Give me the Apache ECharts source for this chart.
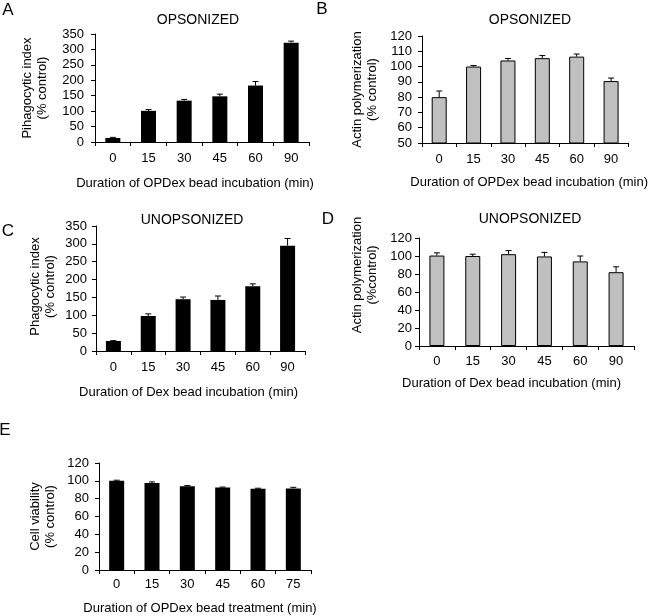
<!DOCTYPE html>
<html>
<head>
<meta charset="utf-8">
<script src="https://cdn.jsdelivr.net/npm/echarts@6/dist/echarts.min.js"></script>
<style>html,body{margin:0;padding:0;background:#fff}#c{width:650px;height:616px}</style>
</head>
<body>
<div id="c"></div>
<script>
const catsAD = ['0','15','30','45','60','90'];
const catsE = ['0','15','30','45','60','75'];
const valA = [13,101,134,148,183,322];
const errA = [2,4,4,7,13,5];
const valB = [80,100,104,105.5,106.5,90.5];
const errB = [4,0.7,1.3,1.7,1.7,2];
const valC = [28,98,145,143,181,295];
const errC = [1,6,6,11,7,20];
const valD = [100.5,100,102,99.5,94,82];
const errD = [3,2,4,4.5,6,6];
const valE = [100,97.5,94,92.5,91,91.5];
const errE = [0.7,1.3,0.7,0.5,0.7,1.2];

const FONT = 'Liberation Sans, Arial, sans-serif';
const chart = echarts.init(document.getElementById('c'));

const panels = [
  {cats:catsAD, val:valA, err:errA, grid:{left:95,top:34,width:214,height:108}, min:0,max:350,interval:50,
   fill:'#000', border:0, yname:'Pihagocytic index\n(% control)', ynameGap:45, ynamePad:[0,0,0,0], ylabM:11,
   xname:'Duration of OPDex bead incubation (min)', xnameGap:35, xnamePad:[0,14,0,0], xlabM:10},
  {cats:catsAD, val:valB, err:errB, grid:{left:422,top:36,width:212,height:107}, min:50,max:120,interval:10,
   fill:'#c0c0c0', border:1, yname:'Actin polymerization\n(% control)', ynameGap:42, ynamePad:[0,0,0,0], ylabM:10,
   xname:'Duration of OPDex bead incubation (min)', xnameGap:33, xnamePad:[0,0,0,8], xlabM:10},
  {cats:catsAD, val:valC, err:errC, grid:{left:96,top:226,width:209,height:125}, min:0,max:350,interval:50,
   fill:'#000', border:0, yname:'Phagocytic index\n(% control)', ynameGap:38, ynamePad:[0,0,0,4], ylabM:9,
   xname:'Duration of Dex bead incubation (min)', xnameGap:35, xnamePad:[0,24,0,0], xlabM:10},
  {cats:catsAD, val:valD, err:errD, grid:{left:419,top:238,width:215,height:108}, min:0,max:120,interval:20,
   fill:'#c0c0c0', border:1, yname:'Actin polymerization\n(%control)', ynameGap:39, ynamePad:[0,0,0,34], ylabM:7,
   xname:'Duration of Dex bead incubation (min)', xnameGap:31, xnamePad:[0,30,0,0], xlabM:9},
  {cats:catsE, val:valE, err:errE, grid:{left:99,top:463,width:212,height:108}, min:0,max:120,interval:20,
   fill:'#000', border:0, yname:'Cell viability\n(% control)', ynameGap:41, ynamePad:[0,0,0,0], ylabM:10,
   xname:'Duration of OPDex bead treatment (min)', xnameGap:32, xnamePad:[0,10,0,0], xlabM:8}
];

const grid = [], xAxis = [], yAxis = [], series = [];
panels.forEach((p, i) => {
  grid.push(Object.assign({containLabel:false}, p.grid));
  xAxis.push({
    gridIndex:i, type:'category', data:p.cats,
    axisLine:{lineStyle:{color:'#000',width:1}},
    axisTick:{show:true,length:4,lineStyle:{color:'#000'}},
    axisLabel:{color:'#000',fontSize:13,fontFamily:FONT,margin:p.xlabM},
    splitLine:{show:false},
    name:p.xname, nameLocation:'middle', nameGap:p.xnameGap,
    nameTextStyle:{color:'#000',fontSize:13,fontFamily:FONT,padding:p.xnamePad}
  });
  yAxis.push({
    gridIndex:i, type:'value', min:p.min, max:p.max, interval:p.interval,
    axisLine:{show:true,lineStyle:{color:'#000',width:1}},
    axisTick:{show:true,length:4,lineStyle:{color:'#000'}},
    axisLabel:{color:'#000',fontSize:13,fontFamily:FONT,margin:p.ylabM},
    splitLine:{show:false},
    name:p.yname, nameLocation:'middle', nameGap:p.ynameGap, nameRotate:90,
    nameTextStyle:{color:'#000',fontSize:13,fontFamily:FONT,lineHeight:15,padding:p.ynamePad}
  });
  series.push({
    type:'bar', xAxisIndex:i, yAxisIndex:i, data:p.val, barWidth:15,
    itemStyle:{color:p.fill, borderColor:'#000', borderWidth:p.border},
    silent:true, animation:false
  });
  series.push({
    type:'custom', xAxisIndex:i, yAxisIndex:i, z:5, animation:false, silent:true,
    encode:{x:0,y:1},
    data:p.val.map((v,k)=>[k, v, p.err[k]]),
    renderItem:function(params, api){
      const x = api.value(0), v = api.value(1), e = api.value(2);
      const p0 = api.coord([x, v]);
      const p1 = api.coord([x, v + e]);
      const hw = 3;
      return {type:'group', children:[
        {type:'line', shape:{x1:p0[0],y1:p0[1],x2:p1[0],y2:p1[1]}, style:{stroke:'#000',lineWidth:1}},
        {type:'line', shape:{x1:p1[0]-hw,y1:p1[1],x2:p1[0]+hw,y2:p1[1]}, style:{stroke:'#000',lineWidth:1}}
      ]};
    }
  });
});

const txt = (x, y, t, size) => ({type:'text', x:x, y:y, style:{text:t, fill:'#000', font:size+'px '+FONT, textAlign:'center', textVerticalAlign:'middle'}});

chart.setOption({
  animation:false,
  grid:grid, xAxis:xAxis, yAxis:yAxis, series:series,
  graphic:[
    txt(198,20,'OPSONIZED',14), txt(530,20,'OPSONIZED',14),
    txt(192,220,'UNOPSONIZED',14), txt(530,219,'UNOPSONIZED',14),
    txt(8,10,'A',17), txt(322,9,'B',17), txt(8,231,'C',17), txt(328,219,'D',17), txt(5,430,'E',17)
  ]
});
</script>
</body>
</html>
